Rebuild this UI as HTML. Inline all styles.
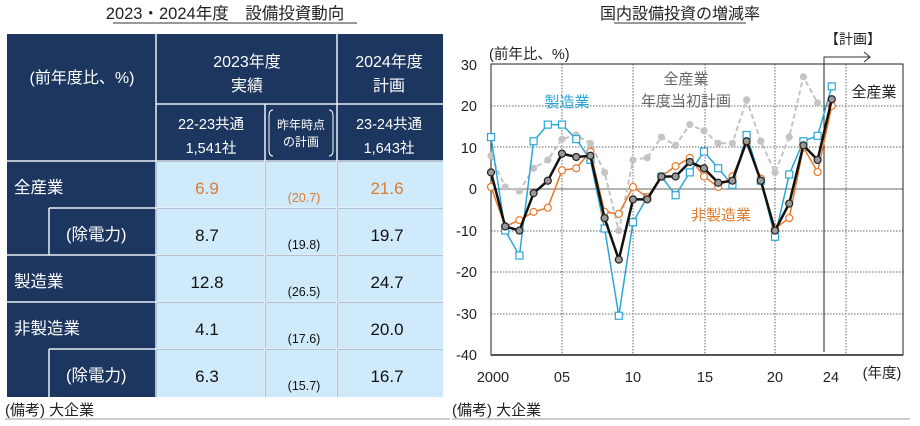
<!DOCTYPE html>
<html><head><meta charset="utf-8"><style>
body{margin:0;background:#fff;width:920px;height:421px;overflow:hidden}
svg text{font-family:"Liberation Sans","Noto Sans CJK JP",sans-serif}
</style></head><body>
<svg width="920" height="421" viewBox="0 0 920 421" xmlns="http://www.w3.org/2000/svg">
<!-- Table -->
<text x="225" y="19" font-size="16.5" text-anchor="middle" fill="#222">2023・2024年度　設備投資動向</text>
<line x1="113" y1="23" x2="357" y2="23" stroke="#333" stroke-width="1"/>
<rect x="7" y="34" width="436" height="363" fill="#1c3660"/>
<g fill="#cfeafb">
<rect x="157" y="162" width="108" height="46"/><rect x="266" y="162" width="71" height="46"/><rect x="338" y="162" width="105" height="46"/>
<rect x="157" y="209" width="108" height="46"/><rect x="266" y="209" width="71" height="46"/><rect x="338" y="209" width="105" height="46"/>
<rect x="157" y="256" width="108" height="46"/><rect x="266" y="256" width="71" height="46"/><rect x="338" y="256" width="105" height="46"/>
<rect x="157" y="303" width="108" height="46"/><rect x="266" y="303" width="71" height="46"/><rect x="338" y="303" width="105" height="46"/>
<rect x="157" y="350" width="108" height="47"/><rect x="266" y="350" width="71" height="47"/><rect x="338" y="350" width="105" height="47"/>
</g>
<g stroke="#e8eef5" stroke-width="1.5" fill="none">
<line x1="156" y1="34" x2="156" y2="397"/><line x1="337" y1="34" x2="337" y2="397"/>
<line x1="265" y1="104" x2="265" y2="397"/>
<line x1="156" y1="104" x2="443" y2="104"/>
<line x1="7" y1="161" x2="443" y2="161"/>
<line x1="49" y1="208" x2="443" y2="208"/><line x1="49" y1="208" x2="49" y2="255"/>
<line x1="7" y1="255" x2="443" y2="255"/>
<line x1="7" y1="302" x2="443" y2="302"/>
<line x1="49" y1="349" x2="443" y2="349"/><line x1="49" y1="349" x2="49" y2="397"/>
</g>
<g fill="#fff" font-size="16" text-anchor="middle">
<text x="82" y="83">(前年度比、%)</text>
<text x="247" y="67">2023年度</text><text x="247" y="91">実績</text>
<text x="389" y="67">2024年度</text><text x="389" y="91">計画</text>
<text x="211" y="129" font-size="14.5">22-23共通</text><text x="211" y="153" font-size="14.5">1,541社</text>
<text x="301" y="129" font-size="12">昨年時点</text><text x="301" y="146" font-size="12">の計画</text>
<text x="389" y="129" font-size="14.5">23-24共通</text><text x="389" y="153" font-size="14.5">1,643社</text>
</g>
<path d="M273 110 Q269 110 269 116 L269 150 Q269 156 273 156 M329 110 Q333 110 333 116 L333 150 Q333 156 329 156" stroke="#fff" fill="none" stroke-width="1"/>
<g fill="#fff" font-size="16.5">
<text x="14" y="193">全産業</text><text x="66" y="240">(除電力)</text>
<text x="14" y="287">製造業</text><text x="14" y="334">非製造業</text><text x="66" y="381">(除電力)</text>
</g>
<g font-size="17" text-anchor="middle" fill="#111">
<text x="207" y="194" fill="#e07a2c">6.9</text><text x="387" y="194" fill="#e07a2c">21.6</text>
<text x="207" y="241">8.7</text><text x="387" y="241">19.7</text>
<text x="207" y="288">12.8</text><text x="387" y="288">24.7</text>
<text x="207" y="335">4.1</text><text x="387" y="335">20.0</text>
<text x="207" y="382">6.3</text><text x="387" y="382">16.7</text>
</g>
<g font-size="12.5" text-anchor="middle" fill="#111">
<text x="304" y="202" fill="#e07a2c">(20.7)</text><text x="304" y="249">(19.8)</text>
<text x="304" y="296">(26.5)</text><text x="304" y="343">(17.6)</text><text x="304" y="390">(15.7)</text>
</g>
<text x="5" y="415" font-size="15" fill="#222">(備考) 大企業</text>
<line x1="5" y1="419" x2="450" y2="419" stroke="#bbb" stroke-width="1.5"/>

<!-- Chart -->
<text x="680" y="19" font-size="16" text-anchor="middle" fill="#222">国内設備投資の増減率</text>
<line x1="614" y1="23" x2="746" y2="23" stroke="#333" stroke-width="1"/>
<text x="825" y="44" font-size="14" fill="#222">【計画】</text>
<path d="M824 64 V57 H870 M864 52 L870 57 L864 62" stroke="#333" fill="none" stroke-width="1"/>
<text x="489" y="59" font-size="14.5" fill="#222">(前年比、%)</text>
<g stroke="#666" stroke-dasharray="1.5,1.5" stroke-width="1">
<line x1="491" y1="106" x2="903" y2="106"/><line x1="491" y1="147" x2="903" y2="147"/>
<line x1="491" y1="231" x2="903" y2="231"/><line x1="491" y1="272" x2="903" y2="272"/>
<line x1="491" y1="314" x2="903" y2="314"/>
<line x1="562" y1="64" x2="562" y2="355"/><line x1="633" y1="64" x2="633" y2="355"/>
<line x1="705" y1="64" x2="705" y2="355"/><line x1="775" y1="64" x2="775" y2="355"/>
<line x1="846" y1="64" x2="846" y2="355"/>
</g>
<line x1="491" y1="189" x2="903" y2="189" stroke="#999" stroke-width="1.5"/>
<line x1="824" y1="64" x2="824" y2="352" stroke="#222" stroke-width="1"/>
<rect x="491" y="64" width="412" height="291" fill="none" stroke="#222" stroke-width="1"/>
<line x1="491" y1="355" x2="903" y2="355" stroke="#555" stroke-width="2"/>
<g font-size="14.5" fill="#222" text-anchor="end">
<text x="477" y="70">30</text><text x="477" y="111">20</text><text x="477" y="153">10</text>
<text x="477" y="194">0</text><text x="477" y="236">-10</text><text x="477" y="277">-20</text>
<text x="477" y="319">-30</text><text x="477" y="360">-40</text>
</g>
<g font-size="14.5" fill="#222" text-anchor="middle">
<text x="493" y="382">2000</text><text x="562" y="382">05</text><text x="633" y="382">10</text>
<text x="705" y="382">15</text><text x="775" y="382">20</text><text x="831" y="382">24</text>
<text x="882" y="378">(年度)</text>
</g>
<text x="567" y="107" font-size="15" fill="#2aa7d6" text-anchor="middle">製造業</text>
<text x="686" y="84" font-size="15" fill="#666" text-anchor="middle">全産業</text>
<text x="686" y="106" font-size="15" fill="#666" text-anchor="middle">年度当初計画</text>
<text x="721" y="220" font-size="15" fill="#e07a2c" text-anchor="middle">非製造業</text>
<text x="874" y="97" font-size="15" fill="#222" text-anchor="middle">全産業</text>
<text x="452" y="415" font-size="15" fill="#222">(備考) 大企業</text>
<line x1="452" y1="419" x2="910" y2="419" stroke="#bbb" stroke-width="1.5"/>
<g id="series"></g>
</svg>
<script>
(function(){
var X=function(i){return 491+14.2*i},Y=function(v){return 189-v*4.155};
var ns="http://www.w3.org/2000/svg",g=document.getElementById('series');
function line(d,col,w,dash){var p="";d.forEach(function(v,i){p+=(i?"L":"M")+X(i).toFixed(1)+" "+Y(v).toFixed(1)});
var e=document.createElementNS(ns,"path");e.setAttribute("d",p);e.setAttribute("stroke",col);e.setAttribute("stroke-width",w);e.setAttribute("fill","none");if(dash)e.setAttribute("stroke-dasharray",dash);g.appendChild(e);}
function mk(d,type,stroke,fill,r){d.forEach(function(v,i){var e;if(type=="s"){e=document.createElementNS(ns,"rect");e.setAttribute("x",X(i)-r);e.setAttribute("y",Y(v)-r);e.setAttribute("width",2*r);e.setAttribute("height",2*r);}else{e=document.createElementNS(ns,"circle");e.setAttribute("cx",X(i));e.setAttribute("cy",Y(v));e.setAttribute("r",r);}
e.setAttribute("stroke",stroke);e.setAttribute("fill",fill);e.setAttribute("stroke-width",1.2);g.appendChild(e);});}
var plan=[8,0.5,-0.5,5,7,12,13,11,4,-10,7,7.5,12.5,10.5,15.5,14,11,11,21.5,11.5,4,12.5,27,20.7];
var man=[12.5,-10,-16,11.5,15.5,15.5,12,7,-9.5,-30.5,-8,-2,3,-1.5,4,9,5,1,13,2,-11.5,3.5,11.5,12.8,24.7];
var non=[0.5,-9,-7.5,-5.5,-4.5,4.5,5,9,-5.5,-6,0.5,-2,3,5.5,7.5,3,0.5,3,11,2.5,-9.5,-7,10,4.1,20];
var all=[4,-9,-10,-1,2,8.5,7.7,8,-7,-17,-2.5,-2.5,3,3,6.5,5,1.5,2,11.5,2,-10,-3.5,10.5,7,21.6];
line(plan,"#c4c4c4",2,"5,3");mk(plan,"c","#c4c4c4","#c4c4c4",3);
line(man,"#2aa7d6",1.5);mk(man,"s","#2aa7d6","#fff",3.5);
line(non,"#e8792c",1.5);mk(non,"c","#e8792c","#fff",3.5);
line(all,"#111",2.5);mk(all,"c","#222","#999",3.5);
})();
</script>
</body></html>
